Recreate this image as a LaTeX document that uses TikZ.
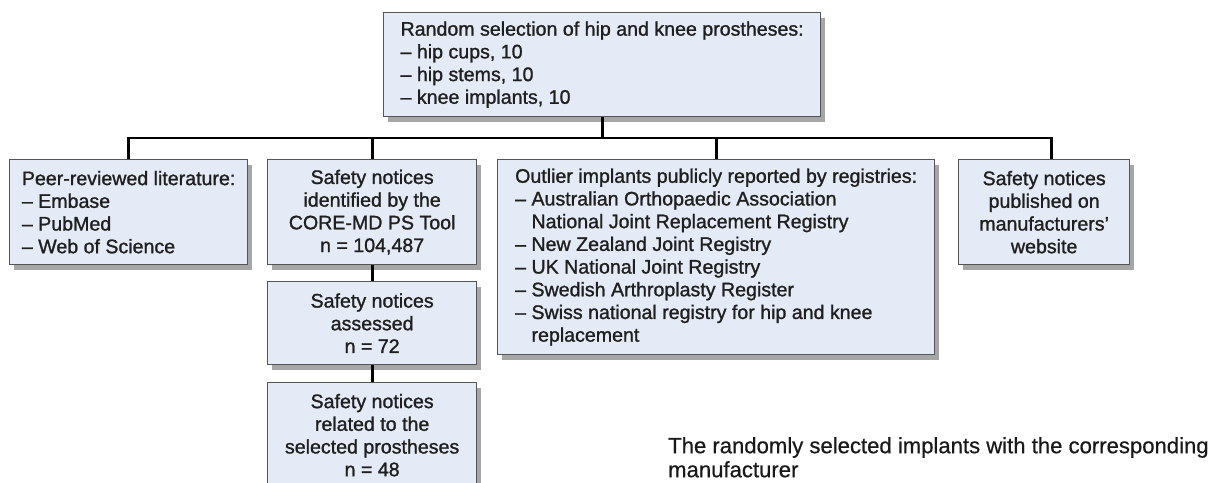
\documentclass[tikz,border=0pt]{standalone}
\usepackage{fontspec}
\setmainfont{Liberation Sans}
\newfontfamily\medfont{Liberation Sans}[FakeBold=1.2]
\newfontfamily\capfont{Liberation Sans}[FakeBold=0.6]
\usetikzlibrary{positioning, shadows}
\definecolor{boxblue}{RGB}{229,235,246}
\definecolor{boxline}{RGB}{85,85,85}
\newcommand{\indentline}{\phantom{– }}

\begin{document}
\begin{tikzpicture}[x=1pt, y=-1pt,
        box/.style={draw=boxline, line width=1.3pt, fill=boxblue, anchor=north west,
            inner sep=0pt, text=black!88, font=\medfont\fontsize{19.6}{22.7}\selectfont,
            drop shadow={shadow xshift=4pt, shadow yshift=-5pt, opacity=0.35, fill=black}},
        leftbox/.style={box, align=left},
        midbox/.style={box, align=center},
        link/.style={line width=2.8pt, black}]
    \useasboundingbox (0,0) rectangle (1220,482);
    % Kästen
    \node[leftbox, minimum width=437pt, minimum height=104pt] (top) at (383,12)
        {Random selection of hip and knee prostheses:\\ – hip cups, 10\\ – hip stems, 10\\ – knee implants, 10};
    \node[leftbox, minimum width=238pt, minimum height=105pt] (peer) at (9,159)
        {Peer-reviewed literature:\\ – Embase\\ – PubMed\\ – Web of Science};
    \node[midbox, minimum width=209pt, minimum height=105pt] (notices) at (267,159)
        {Safety notices\\ identified by the\\ CORE-MD PS Tool\\ n = 104,487};
    \node[midbox, minimum width=209pt, minimum height=83pt] (assessed) at (267,281)
        {Safety notices\\ assessed\\ n = 72};
    \node[midbox, minimum width=209pt, minimum height=105pt] (related) at (267,382)
        {Safety notices\\ related to the\\ selected prostheses\\ n = 48};
    \node[leftbox, minimum width=437pt, minimum height=195pt] (outlier) at (497,159)
        {Outlier implants publicly reported by registries:\\
         – Australian Orthopaedic Association\\
         \indentline National Joint Replacement Registry\\
         – New Zealand Joint Registry\\
         – UK National Joint Registry\\
         – Swedish Arthroplasty Register\\
         – Swiss national registry for hip and knee\\
         \indentline replacement};
    \node[midbox, minimum width=171pt, minimum height=105pt] (maker) at (958,159)
        {Safety notices\\ published on\\ manufacturers’\\ website};
    % Text unten
    \node[anchor=north west, inner sep=0pt, align=left, text=black!90,
        font=\capfont\fontsize{22.1}{24}\selectfont] (caption) at (668,437)
        {The randomly selected implants with the corresponding\\ manufacturer};
    % Verbindungen
    \coordinate (bus) at (0,138);
    \draw[link] (peer.north) -- (peer.north |- bus) -- ([xshift=7pt]maker.north |- bus)
        -- ([xshift=7pt]maker.north);
    \draw[link] (top.south) -- (top.south |- bus);
    \foreach \n in {notices, outlier} \draw[link] (\n.north) -- (\n.north |- bus);
    \draw[link] (notices.south) -- (assessed.north);
    \draw[link] (assessed.south) -- (related.north);
\end{tikzpicture}
\end{document}
